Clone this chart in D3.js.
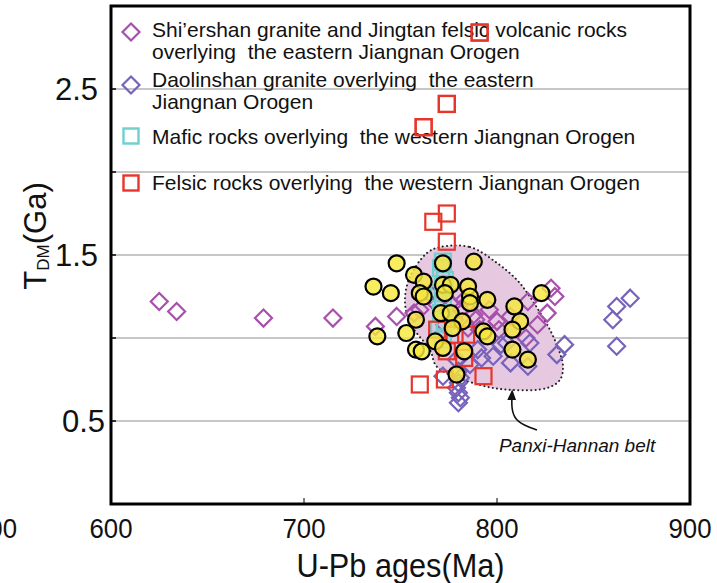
<!DOCTYPE html>
<html><head><meta charset="utf-8">
<script src="https://cdn.jsdelivr.net/npm/d3@7"></script>
<style>
body{margin:0;background:#fff}
svg{display:block}
text{font-family:"Liberation Sans",Arial,Helvetica,sans-serif;fill:#111;white-space:pre}
</style>
</head><body>
<svg id="chart" width="717" height="583"></svg>
<script>
// Zircon U-Pb ages (Ma) against depleted-mantle model ages T_DM (Ga)
const xTicks = [600, 700, 800, 900];
const yGrid = [0.5, 1.0, 1.5, 2.0, 2.5];
const yLabels = [0.5, 1.5, 2.5];

// Shi'ershan granite and Jingtan felsic volcanic rocks (eastern Jiangnan Orogen)
const shiAge = [625, 634, 679, 715, 737, 748, 757, 765, 800, 807, 816, 828, 830, 826, 815, 777, 781, 783, 788, 789, 778, 773, 791, 785, 780, 769, 760, 796, 821, 801];
const shiTdm = [1.22, 1.16, 1.12, 1.12, 1.07, 1.13, 1.15, 1.27, 1.10, 1.13, 1.22, 1.30, 1.25, 1.15, 1.00, 1.20, 1.17, 1.23, 1.14, 1.11, 1.11, 1.08, 1.05, 1.06, 1.26, 1.20, 1.17, 1.17, 1.08, 1.05];

// Daolinshan granite (eastern Jiangnan Orogen)
const daoAge = [869, 862, 860, 862, 835, 831, 779, 780, 781, 780, 779, 780, 781, 780, 790, 792, 798, 805, 807, 816, 817, 772, 786, 802];
const daoTdm = [1.24, 1.19, 1.11, 0.95, 0.96, 0.90, 0.87, 0.80, 0.76, 0.73, 0.70, 0.67, 0.64, 0.61, 0.93, 0.88, 0.89, 0.97, 0.85, 0.83, 0.97, 0.77, 0.84, 0.96];

// Mafic rocks (western Jiangnan Orogen)
const maficAge = [772, 771, 773, 772, 770, 772, 771, 773, 770, 772];
const maficTdm = [1.46, 1.42, 1.35, 1.31, 1.27, 1.20, 1.15, 1.10, 1.05, 0.99];

// Felsic rocks (western Jiangnan Orogen)
const felsicAge = [791, 774, 762, 774, 767, 774, 769, 778, 784, 774, 783, 773, 760, 793];
const felsicTdm = [2.84, 2.41, 2.27, 1.75, 1.70, 1.58, 1.05, 1.02, 1.02, 0.92, 0.88, 0.75, 0.72, 0.77];

// Panxi-Hannan belt samples
const phAge = [748, 772, 788, 757, 762, 736, 745, 760, 762, 772, 776, 773, 785, 786, 786, 795, 823, 809, 771, 776, 782, 758, 812, 808, 793, 795, 753, 777, 738, 768, 772, 758, 761, 783, 808, 816, 779];
const phTdm = [1.45, 1.45, 1.46, 1.38, 1.34, 1.31, 1.27, 1.27, 1.25, 1.32, 1.32, 1.27, 1.31, 1.25, 1.21, 1.23, 1.27, 1.19, 1.15, 1.15, 1.10, 1.11, 1.10, 1.05, 1.04, 1.01, 1.03, 1.06, 1.01, 0.98, 0.94, 0.93, 0.92, 0.92, 0.93, 0.87, 0.78];

// Outline of the Panxi-Hannan belt field
const beltAge = [770.5, 786, 800, 810.4, 817.1, 827.5, 832.6, 834.2, 832.6, 826, 807.8, 791.2, 769, 765.3, 754.9, 752.3, 754.9, 763.7];
const beltTdm = [1.548, 1.548, 1.452, 1.349, 1.247, 1.048, 0.91, 0.825, 0.747, 0.699, 0.687, 0.717, 0.825, 0.928, 1.09, 1.229, 1.367, 1.512];

// Pointer from the field label to the field
const arrowAge = [820.7, 809.5, 807.8];
const arrowTdm = [0.446, 0.52, 0.665];
const beltLabel = {age: 801, tdm: 0.313, text: "Panxi-Hannan belt"};

const legendItems = [
  {shape: "diamond", color: "#a750ac", lines: ["Shi\u2019ershan granite and Jingtan felsic volcanic rocks", "overlying  the eastern Jiangnan Orogen"]},
  {shape: "diamond", color: "#7763bb", lines: ["Daolinshan granite overlying  the eastern", "Jiangnan Orogen"]},
  {shape: "square", color: "#6fcfcf", lines: ["Mafic rocks overlying  the western Jiangnan Orogen"]},
  {shape: "square", color: "#e8352b", lines: ["Felsic rocks overlying  the western Jiangnan Orogen"]}
];

const svg = d3.select("#chart");
const plot = {left: 111, right: 690, top: 6, bottom: 504};
const x = d3.scaleLinear().domain([600, 900]).range([plot.left, plot.right]);
const y = d3.scaleLinear().domain([0, 3]).range([plot.bottom, plot.top]);

const zip = (a, b) => a.map((v, i) => [v, b[i]]);

// horizontal grid
svg.append("g").selectAll("line").data(yGrid).join("line")
  .attr("x1", plot.left).attr("x2", plot.right)
  .attr("y1", d => y(d)).attr("y2", d => y(d))
  .attr("stroke", "#b4b4b4").attr("stroke-width", 1.5);

// left tick marks on grid values, bottom tick marks on ages
svg.append("g").selectAll("line").data(yGrid).join("line")
  .attr("x1", plot.left).attr("x2", plot.left + 5)
  .attr("y1", d => y(d)).attr("y2", d => y(d))
  .attr("stroke", "#000").attr("stroke-width", 1.5);
svg.append("g").selectAll("line").data(xTicks).join("line")
  .attr("x1", d => x(d)).attr("x2", d => x(d))
  .attr("y1", plot.bottom).attr("y2", plot.bottom - 6)
  .attr("stroke", "#000").attr("stroke-width", 1);

// Panxi-Hannan field
const fieldLine = d3.line().x(d => x(d[0])).y(d => y(d[1])).curve(d3.curveCatmullRomClosed.alpha(0.5));
svg.append("path").attr("d", fieldLine(zip(beltAge, beltTdm)))
  .attr("fill", "#e6c9e1").attr("stroke", "#222").attr("stroke-width", 2)
  .attr("stroke-dasharray", "0.1 4.2").attr("stroke-linecap", "round");

const diamondPath = "M0,-8.5L8.5,0L0,8.5L-8.5,0Z";
const squareSide = 16;

function drawDiamonds(ages, tdms, color) {
  svg.append("g").selectAll("path").data(zip(ages, tdms)).join("path")
    .attr("d", diamondPath)
    .attr("transform", d => `translate(${x(d[0])},${y(d[1])})`)
    .attr("fill", "none").attr("stroke", color).attr("stroke-width", 2.2);
}
function drawSquares(ages, tdms, color, fillOpacity) {
  svg.append("g").selectAll("rect").data(zip(ages, tdms)).join("rect")
    .attr("x", d => x(d[0]) - squareSide / 2).attr("y", d => y(d[1]) - squareSide / 2)
    .attr("width", squareSide).attr("height", squareSide)
    .attr("fill", fillOpacity ? color : "none").attr("fill-opacity", fillOpacity || 0)
    .attr("stroke", color).attr("stroke-width", 2.2);
}

drawDiamonds(shiAge, shiTdm, legendItems[0].color);
drawDiamonds(daoAge, daoTdm, legendItems[1].color);
drawSquares(maficAge, maficTdm, legendItems[2].color, 0.12);
drawSquares(felsicAge, felsicTdm, legendItems[3].color);

// Panxi-Hannan samples
svg.append("g").selectAll("circle").data(zip(phAge, phTdm)).join("circle")
  .attr("cx", d => x(d[0])).attr("cy", d => y(d[1])).attr("r", 8)
  .attr("fill", "#f6e83c").attr("fill-opacity", 0.82)
  .attr("stroke", "#000").attr("stroke-width", 2.2);

// field pointer and label
svg.append("defs").append("marker").attr("id", "head")
  .attr("viewBox", "0 0 10 10").attr("refX", 6).attr("refY", 5)
  .attr("markerWidth", 7).attr("markerHeight", 7).attr("orient", "auto")
  .append("path").attr("d", "M0,1L10,5L0,9Z").attr("fill", "#111");
const arrowLine = d3.line().x(d => x(d[0])).y(d => y(d[1])).curve(d3.curveNatural);
svg.append("path").attr("d", arrowLine(zip(arrowAge, arrowTdm)))
  .attr("fill", "none").attr("stroke", "#111").attr("stroke-width", 1.6)
  .attr("marker-end", "url(#head)");
svg.append("text").attr("x", x(beltLabel.age)).attr("y", y(beltLabel.tdm))
  .attr("font-size", 19).attr("font-style", "italic").text(beltLabel.text);

// legend
const legendRows = [
  {markY: 32, base: [37, 59]},
  {markY: 85, base: [87, 109]},
  {markY: 136, base: [144]},
  {markY: 183, base: [190]}
];
const lg = svg.append("g");
legendItems.forEach((item, i) => {
  const row = legendRows[i];
  if (item.shape === "diamond") {
    lg.append("path").attr("d", diamondPath).attr("transform", `translate(131,${row.markY})`)
      .attr("fill", "none").attr("stroke", item.color).attr("stroke-width", 2.2);
  } else {
    lg.append("rect").attr("x", 131 - 7.5).attr("y", row.markY - 7.5).attr("width", 15).attr("height", 15)
      .attr("fill", "none").attr("stroke", item.color).attr("stroke-width", 2.4);
  }
  item.lines.forEach((t, k) => {
    lg.append("text").attr("x", 152).attr("y", row.base[k]).attr("font-size", 21).text(t);
  });
});

// red felsic squares sit above the legend text
svg.append("g").selectAll("rect").data(zip(felsicAge, felsicTdm).filter(d => d[1] > 2)).join("rect")
  .attr("x", d => x(d[0]) - squareSide / 2).attr("y", d => y(d[1]) - squareSide / 2)
  .attr("width", squareSide).attr("height", squareSide)
  .attr("fill", "none").attr("stroke", legendItems[3].color).attr("stroke-width", 2.2);

// frame
svg.append("rect").attr("x", plot.left).attr("y", plot.top)
  .attr("width", plot.right - plot.left).attr("height", plot.bottom - plot.top)
  .attr("fill", "none").attr("stroke", "#000").attr("stroke-width", 3);

// axis labels (slightly condensed lettering)
svg.append("g").selectAll("text").data(xTicks).join("text")
  .attr("transform", d => `translate(${x(d)},538) scale(0.92,1)`).attr("text-anchor", "middle")
  .attr("font-size", 28).text(d => d);
svg.append("text").attr("transform", "translate(17,538) scale(0.92,1)").attr("text-anchor", "end")
  .attr("font-size", 28).text("500");
svg.append("g").selectAll("text").data(yLabels).join("text")
  .attr("x", d => d === 0.5 ? 105 : 98).attr("y", d => y(d) + 11).attr("text-anchor", "end")
  .attr("font-size", 31).text(d => d.toFixed(1));

svg.append("text").attr("transform", `translate(${(plot.left + plot.right) / 2},577) scale(0.93,1)`)
  .attr("text-anchor", "middle").attr("font-size", 33).text("U-Pb ages(Ma)");

const yt = svg.append("text").attr("transform", "translate(46,236) rotate(-90)")
  .attr("text-anchor", "middle").attr("font-size", 31);
yt.append("tspan").text("T");
yt.append("tspan").attr("font-size", 17).attr("dy", 3).text("DM");
yt.append("tspan").attr("dy", -3).text("(Ga)");
</script>
</body></html>
